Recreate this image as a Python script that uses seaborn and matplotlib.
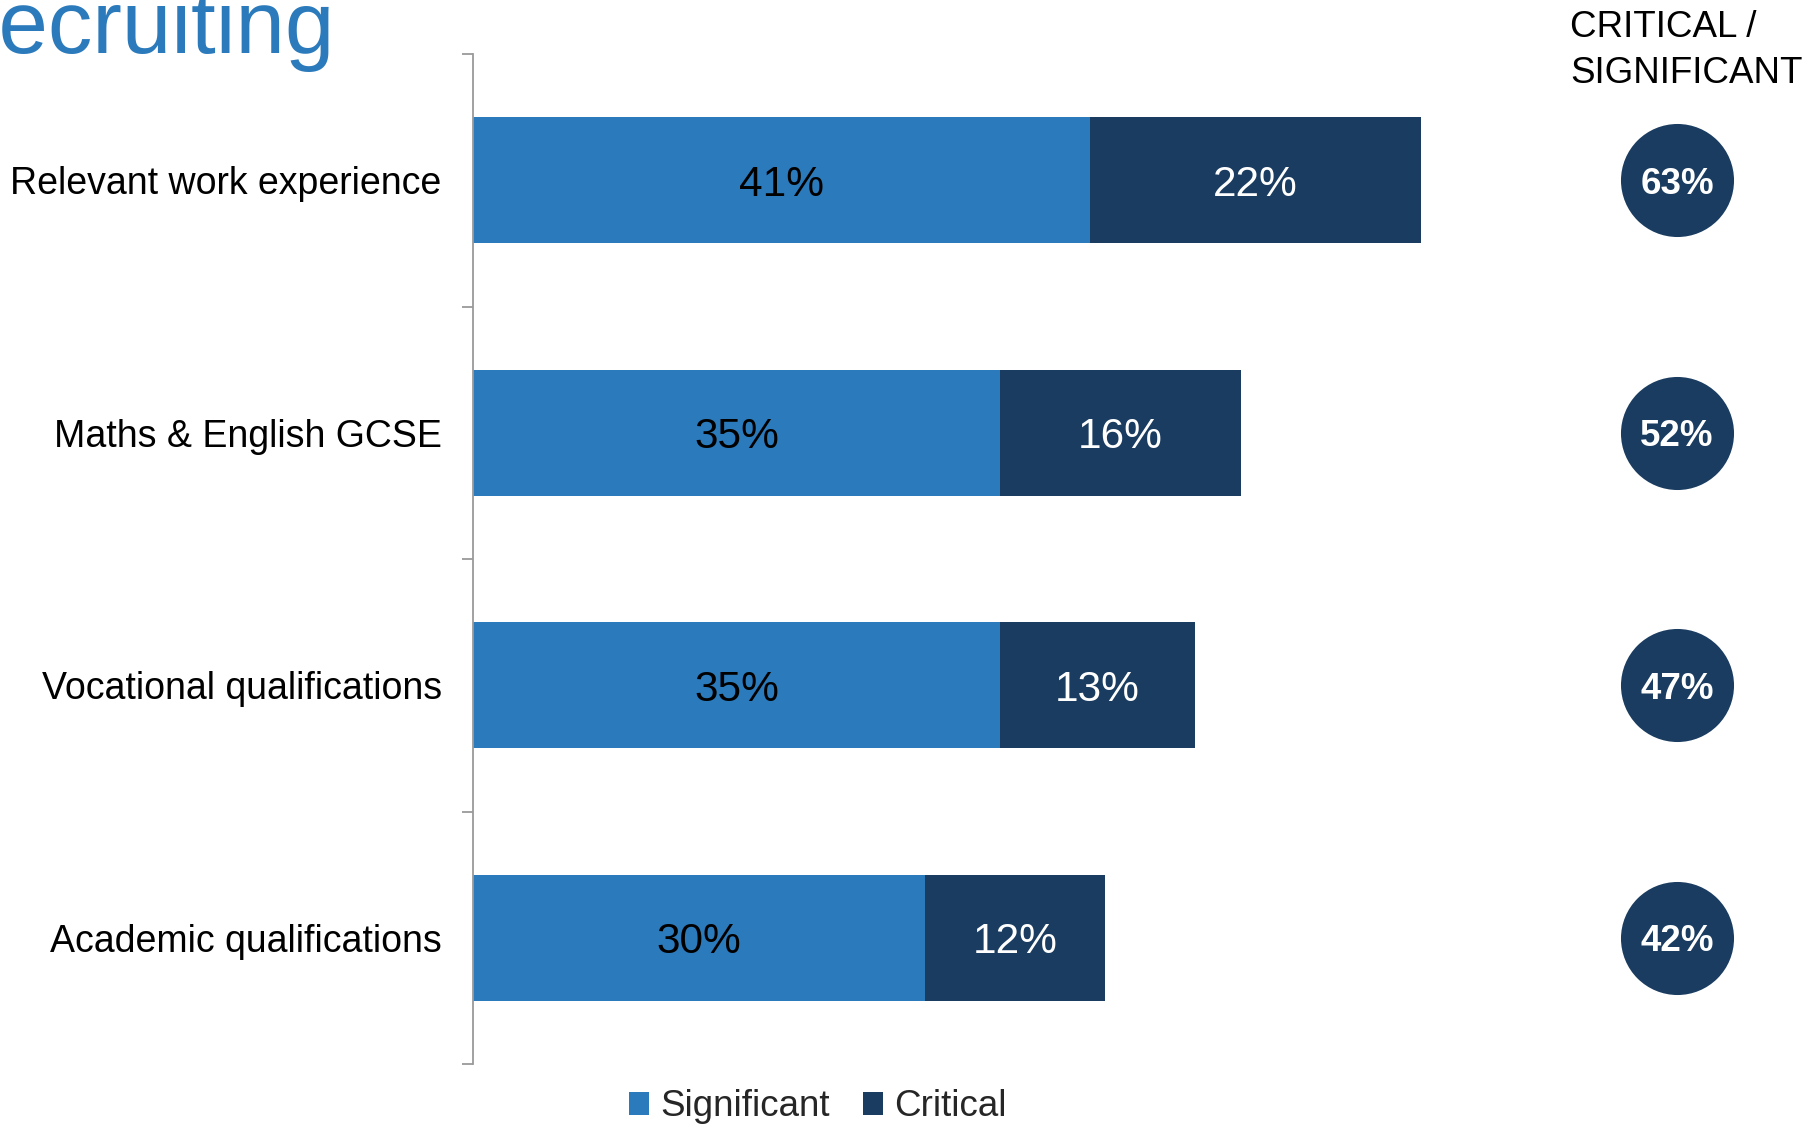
import matplotlib
matplotlib.use("Agg")
import matplotlib.pyplot as plt
from matplotlib.patches import Patch
import pandas as pd
import seaborn as sns

# Survey results: how much each factor matters when recruiting
categories = ["Relevant work experience", "Maths & English GCSE",
              "Vocational qualifications", "Academic qualifications"]
significant = [41, 35, 35, 30]
critical = [22, 16, 13, 12]
combined_labels = [63, 52, 47, 42]

COL_SIG = "#2B7ABB"
COL_CRIT = "#1A3C60"

sns.set_theme(style="white")
plt.rcParams["font.family"] = ["Liberation Sans", "DejaVu Sans"]

df = pd.DataFrame({
    "category": categories,
    "significant": significant,
    "critical": critical,
})
df["total"] = df["significant"] + df["critical"]

fig = plt.figure(figsize=(18.14, 11.24), dpi=100)
ax = fig.add_axes([473 / 1814, 1 - 1064 / 1124, 1 - 473 / 1814, (1064 - 54) / 1124])

# Stacked bars: full total in dark, significant part laid over it
sns.barplot(data=df, y="category", x="total", orient="h", color=COL_CRIT,
            width=0.5, saturation=1, ax=ax, linewidth=0)
sns.barplot(data=df, y="category", x="significant", orient="h", color=COL_SIG,
            width=0.5, saturation=1, ax=ax, linewidth=0)

ax.set_xlim(0, (1814 - 473) / 15.05)
ax.set_ylim(3.5, -0.5)
ax.set_xlabel("")
ax.set_ylabel("")
ax.set_xticks([])

for s in ["top", "right", "bottom"]:
    ax.spines[s].set_visible(False)
ax.spines["left"].set_color("#9A9A9A")
ax.spines["left"].set_linewidth(1.3)

# Category names at bar centres; tick marks at category boundaries
ax.set_yticks(range(len(categories)))
ax.set_yticklabels(categories, fontsize=27, color="black")
ax.tick_params(axis="y", which="major", length=0, pad=22.5)
ax.set_yticks([i - 0.5 for i in range(len(categories) + 1)], minor=True)
ax.tick_params(axis="y", which="minor", left=True, length=8, width=1.3,
               color="#9A9A9A", direction="out")

# Segment value labels
for i, (s, c) in enumerate(zip(significant, critical)):
    ax.text(s / 2, i, f"{s}%", ha="center", va="center_baseline",
            fontsize=30.5, color="black")
    ax.text(s + c / 2, i, f"{c}%", ha="center", va="center_baseline",
            fontsize=30.5, color="white")

# Combined critical / significant bubbles
circle_x = [80] * len(categories)
ax.scatter(circle_x, range(len(categories)), s=81.4 ** 2, color=COL_CRIT,
           linewidths=0, clip_on=False, zorder=3)
for i, v in enumerate(combined_labels):
    ax.text(80, i, f"{v}%", ha="center", va="center_baseline", fontsize=26.5,
            fontweight="bold", color="white", zorder=4)

# Column header above the bubbles
fig.text(1570 / 1814, 1 - 37 / 1124, "CRITICAL /", ha="left", va="baseline",
         fontsize=26.5, color="black")
fig.text(1570 / 1814, 1 - 83 / 1124, "SIGNIFICANT", ha="left", va="baseline",
         fontsize=26.5, color="black")

# Slide title
fig.text(334 / 1814, 1 - 53 / 1124, "recruiting", ha="right", va="baseline",
         fontsize=64, color=COL_SIG)

# Legend
handles = [Patch(facecolor=COL_SIG, edgecolor="none", label="Significant"),
           Patch(facecolor=COL_CRIT, edgecolor="none", label="Critical")]
fig.legend(handles=handles, loc="center", bbox_to_anchor=(818 / 1814, 1 - 1107 / 1124),
           ncol=2, frameon=False, fontsize=26.5, handlelength=0.55, handleheight=0.55,
           handletextpad=0.3, columnspacing=0.9, borderpad=0, borderaxespad=0)

fig.savefig("out.png", dpi=100)
